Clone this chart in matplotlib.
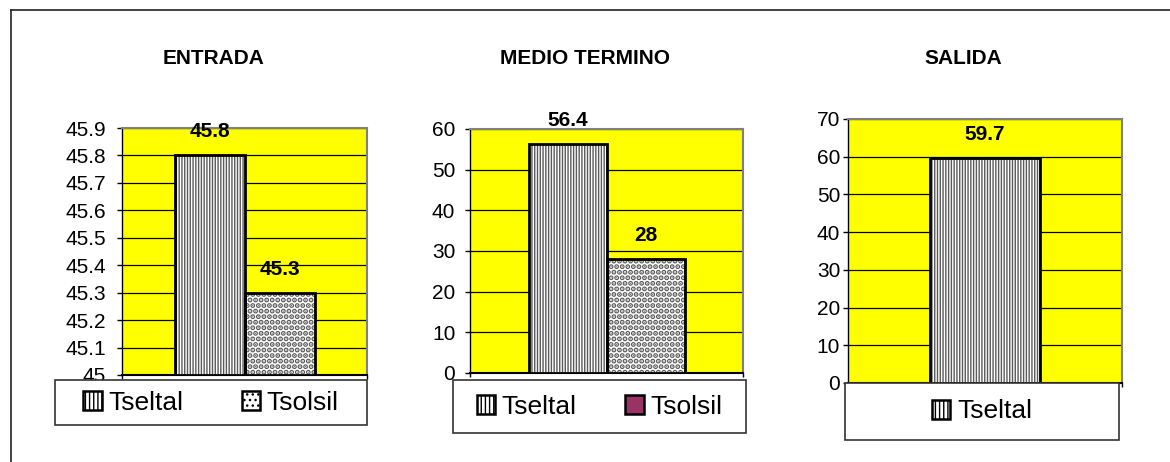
import matplotlib.pyplot as plt
from matplotlib.patches import Patch, Rectangle
from matplotlib.lines import Line2D
import numpy as np

plt.rcParams['font.family'] = ['Liberation Sans', 'DejaVu Sans']
plt.rcParams['hatch.linewidth'] = 1.0

# datos
titles = ['ENTRADA', 'MEDIO TERMINO', 'SALIDA']
series = [['Tseltal', 'Tsolsil'], ['Tseltal', 'Tsolsil'], ['Tseltal']]
values = [[45.8, 45.3], [56.4, 28], [59.7]]
value_labels = [['45.8', '45.3'], ['56.4', '28'], ['59.7']]
yticks = [[45.0, 45.1, 45.2, 45.3, 45.4, 45.5, 45.6, 45.7, 45.8, 45.9],
          [0, 10, 20, 30, 40, 50, 60],
          [0, 10, 20, 30, 40, 50, 60, 70]]
ytick_labels = [['45', '45.1', '45.2', '45.3', '45.4', '45.5', '45.6', '45.7', '45.8', '45.9'],
                ['0', '10', '20', '30', '40', '50', '60'],
                ['0', '10', '20', '30', '40', '50', '60', '70']]

# layout in pixels (left, top, right, bottom)
W, H = 1170, 462
ax_px = [(122, 128, 367, 375), (470, 129, 743, 373), (848, 119, 1122, 383)]
leg_px = [(55, 380, 367, 425), (453, 380, 746, 433), (845, 383, 1119, 440)]
title_px = [(214, 58), (585, 58), (963, 59)]
col_space = [2.2, 1.85, 1.0]
tick_pad = [8, 7, 2]

bar_hatch = {'Tseltal': '||||||', 'Tsolsil': '...'}
hatch_lw = {'Tseltal': 1.0, 'Tsolsil': 2.6}
leg_style = [
    {'Tseltal': dict(facecolor='white', hatch='||||'), 'Tsolsil': dict(facecolor='white', hatch='...')},
    {'Tseltal': dict(facecolor='white', hatch='||||'), 'Tsolsil': dict(facecolor='#993366')},
    {'Tseltal': dict(facecolor='white', hatch='||||')},
]


def fx(p):
    return p / W


def fy(p):
    return 1 - p / H


fig = plt.figure(figsize=(11.7, 4.62), dpi=100)

# marco exterior (solo arriba e izquierda visibles)
fig.add_artist(Line2D([fx(11), fx(11)], [0, fy(10)], color='#222222', lw=1.2))
fig.add_artist(Line2D([fx(11), 1], [fy(10), fy(10)], color='#222222', lw=1.2))

for k in range(3):
    l, t, r, b = ax_px[k]
    ax = fig.add_axes([fx(l), fy(b), fx(r - l), (b - t) / H])
    ax.set_facecolor('#FFFF00')
    n = len(values[k])
    w = 1.0 / (n + 1.5)
    xs = -n * w / 2 + w / 2 + np.arange(n) * w
    for i in range(n):
        s = series[k][i]
        with plt.rc_context({'hatch.linewidth': hatch_lw[s]}):
            bars = ax.bar(xs[i], values[k][i] - yticks[k][0], bottom=yticks[k][0], width=w,
                          color='white', edgecolor='#5a5a5a', hatch=bar_hatch[s],
                          linewidth=0, zorder=3)
        for p in bars:
            if hasattr(p, 'set_hatch_linewidth'):
                p.set_hatch_linewidth(hatch_lw[s])
        ax.bar(xs[i], values[k][i] - yticks[k][0], bottom=yticks[k][0], width=w,
               fill=False, edgecolor='black', linewidth=2, zorder=4)
        ax.annotate(value_labels[k][i], (xs[i], values[k][i]), xytext=(0, 17),
                    textcoords='offset points', ha='center', va='center',
                    fontsize=15, fontweight='bold', zorder=5)
    ax.set_xlim(-0.5, 0.5)
    ax.set_ylim(yticks[k][0], yticks[k][-1])
    ax.set_yticks(yticks[k])
    ax.set_yticklabels(ytick_labels[k], fontsize=15)
    ax.set_xticks([-0.5, 0.5])
    ax.set_xticklabels(['', ''])
    ax.tick_params(axis='y', direction='out', length=3.6, width=1, color='black', pad=tick_pad[k])
    ax.tick_params(axis='x', direction='out', length=3, width=1, color='black')
    ax.yaxis.grid(True, color='black', linewidth=0.9, zorder=1)
    ax.set_axisbelow(True)
    ax.spines['left'].set_color('black')
    ax.spines['left'].set_linewidth(1)
    ax.spines['bottom'].set_color('black')
    ax.spines['bottom'].set_linewidth(1.5)
    for sp in ['top', 'right']:
        ax.spines[sp].set_color('#808080')
        ax.spines[sp].set_linewidth(1.5)

    fig.text(fx(title_px[k][0]), fy(title_px[k][1]), titles[k], ha='center', va='center',
             fontsize=15, fontweight='bold')

    # caja de leyenda
    ll, lt, lr, lb = leg_px[k]
    fig.add_artist(Rectangle((fx(ll), fy(lb)), fx(lr - ll), (lb - lt) / H,
                             transform=fig.transFigure, facecolor='white',
                             edgecolor='#333333', linewidth=1.2, zorder=5))
    handles = [Patch(edgecolor='black', linewidth=1.8, **leg_style[k][s]) for s in series[k]]
    leg = fig.legend(handles, series[k], loc='center',
                     bbox_to_anchor=(fx((ll + lr) / 2), fy((lt + lb) / 2)),
                     ncol=len(series[k]), frameon=False, fontsize=19,
                     handlelength=0.7, handleheight=0.7, handletextpad=0.25,
                     columnspacing=col_space[k], borderpad=0)
    leg.set_zorder(6)

fig.savefig('out.png', dpi=100)
